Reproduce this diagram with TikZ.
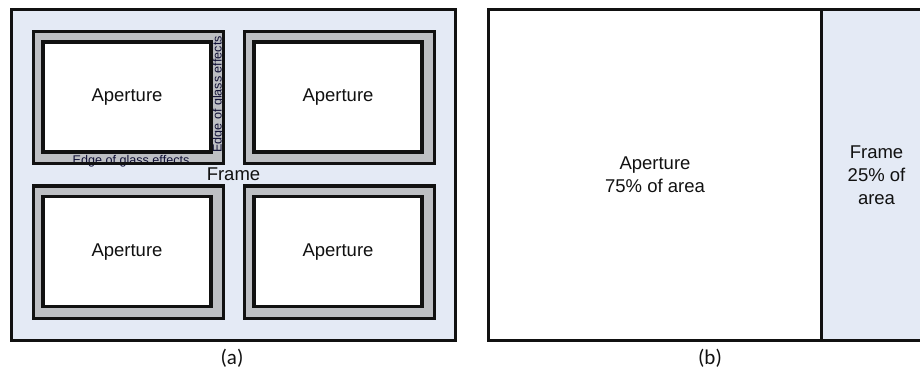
\documentclass[tikz,border=0pt]{standalone}
\usepackage{fontspec}
\setmainfont{Liberation Sans}
\newfontfamily\capfont{Carlito}
\definecolor{framebg}{HTML}{E4EAF5}
\definecolor{glassgray}{HTML}{BDBFC3}
\definecolor{inkc}{HTML}{111111}
\begin{document}
\begin{tikzpicture}[x=1pt,y=-1pt,
  outerline/.style={draw=inkc,line width=3pt},
  glassline/.style={draw=inkc,line width=3pt},
  innerline/.style={draw=inkc,line width=3.6pt},
  bigtext/.style={inner sep=0pt,text=inkc,font=\fontsize{18.5}{23}\selectfont,align=center},
  smalltext/.style={inner sep=0pt,text=inkc!85!blue,font=\fontsize{12.6}{14}\selectfont},
  captext/.style={inner sep=0pt,text=inkc,font=\capfont\fontsize{21}{24}\selectfont}]
\useasboundingbox (0,0) rectangle (920,374);
% panel (a) background
\fill[framebg] (11.5,10) rectangle (455.5,340);
\draw[outerline] (11.5,10) rectangle (455.5,340);
% panes
\foreach \dx/\dy in {0/0,211/0,0/154.5,211/154.5}{
  \begin{scope}[shift={(\dx,\dy)}]
    \fill[glassgray] (33.5,31.5) rectangle (223,163.5);
    \fill[white] (43,42) rectangle (211,152);
  \end{scope}
}
% edge of glass labels (top-left pane)
\node[smalltext,anchor=base] (edgeb) at (131,164.5) {Edge of glass effects};
\node[smalltext,anchor=base,rotate=90] (edger) at (221.5,94.5) {Edge of glass effects};
\foreach \dx/\dy in {0/0,211/0,0/154.5,211/154.5}{
  \begin{scope}[shift={(\dx,\dy)}]
    \draw[glassline] (33.5,31.5) rectangle (223,163.5);
    \draw[innerline] (43,42) rectangle (211,152);
  \end{scope}
}
\node[bigtext] (ap1) at (127,97) {Aperture};
\node[bigtext] (ap2) at (338,97) {Aperture};
\node[bigtext] (ap3) at (127,252) {Aperture};
\node[bigtext] (ap4) at (338,252) {Aperture};
\node[bigtext] (frm) at (233.5,174) {Frame};
\node[captext] (capa) at (232,358) {(a)};
% panel (b)
\fill[framebg] (821,10) rectangle (921,340);
\draw[outerline] (922,10) -- (488.5,10) -- (488.5,340) -- (922,340);
\draw[outerline] (821,10) -- (821,340);
\node[bigtext] (apb) at (655,174.5) {Aperture\\75\% of area};
\node[bigtext] (frb) at (876.5,175) {Frame\\25\% of\\area};
\node[captext] (capb) at (710,358) {(b)};
\end{tikzpicture}
\end{document}
